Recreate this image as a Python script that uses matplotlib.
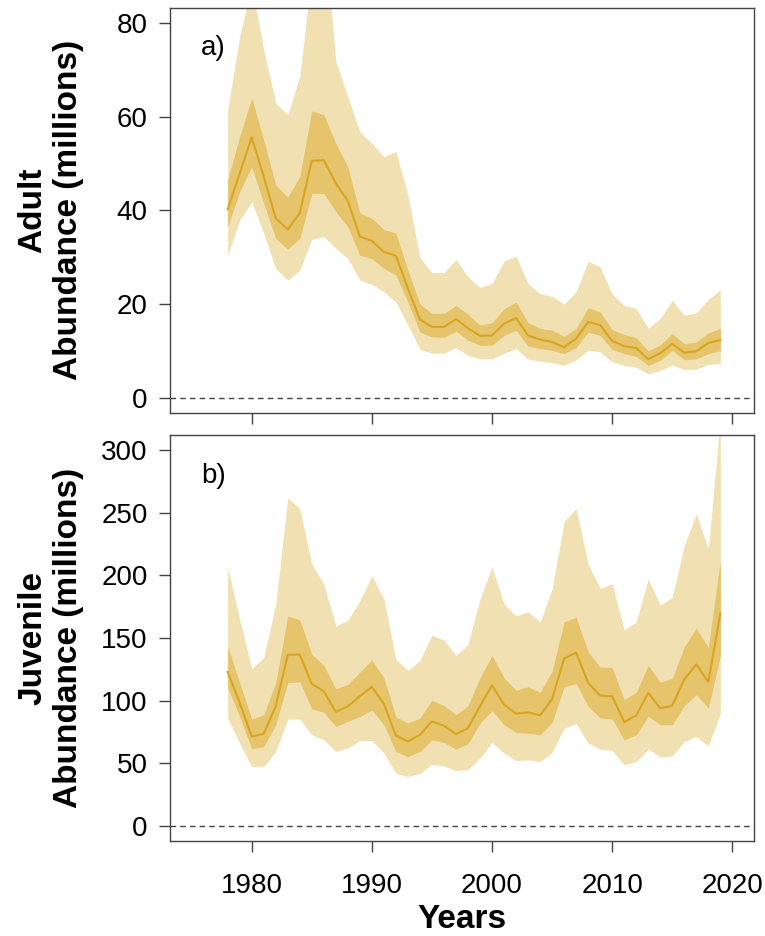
import matplotlib
matplotlib.use("Agg")
import matplotlib.pyplot as plt
import numpy as np

plt.rcParams['font.family'] = ['Liberation Sans', 'DejaVu Sans']

years = np.arange(1978, 2020)

# adult abundance (millions): median, inner band, outer band
adult_med = [40.2, 47.9, 55.6, 47.2, 38.3, 35.9, 39.4, 50.6, 50.7, 45.8,
             42.0, 34.4, 33.5, 31.1, 30.3, 23.3, 16.7, 15.1, 15.1, 16.8,
             14.8, 13.2, 13.3, 15.8, 17.0, 13.3, 12.4, 11.9, 10.8, 12.6,
             16.2, 15.5, 12.1, 11.0, 10.6, 8.2, 9.5, 11.5, 9.6, 9.9,
             11.7, 12.3]
adult_in_hi = [46.5, 55.7, 64.0, 55.0, 45.4, 42.8, 47.2, 61.2, 60.4, 54.3,
               49.3, 39.4, 38.3, 35.9, 35.1, 27.2, 20.0, 18.0, 18.0, 19.7,
               17.8, 15.5, 16.0, 19.0, 20.4, 16.0, 14.8, 14.4, 13.1, 14.8,
               19.2, 18.3, 14.5, 13.5, 12.8, 10.0, 11.3, 13.7, 11.5, 11.9,
               13.8, 14.8]
adult_in_lo = [36.5, 44.0, 49.3, 41.5, 34.0, 31.7, 34.0, 43.6, 43.6, 39.7,
               36.5, 30.4, 29.7, 27.6, 26.2, 20.4, 14.0, 13.0, 12.9, 14.2,
               12.3, 11.2, 11.2, 13.3, 14.4, 11.0, 10.5, 10.1, 9.4, 10.7,
               14.0, 13.3, 10.3, 9.4, 8.8, 6.9, 8.0, 10.1, 8.1, 8.3,
               9.4, 10.0]
adult_out_hi = [61.5, 77.1, 88.0, 74.3, 62.9, 60.4, 68.6, 90.5, 101.0, 71.8,
                64.3, 56.8, 54.3, 51.5, 52.5, 43.3, 29.9, 26.7, 26.7, 29.5,
                25.8, 23.5, 24.4, 29.2, 30.2, 24.3, 22.2, 21.7, 20.0, 22.6,
                29.2, 27.9, 22.1, 19.7, 19.0, 14.8, 16.9, 20.8, 17.6, 18.1,
                21.0, 23.0]
adult_out_lo = [30.4, 37.9, 41.8, 35.1, 27.6, 25.1, 27.2, 33.8, 34.4, 31.9,
                29.7, 25.1, 24.2, 22.6, 20.4, 15.5, 10.3, 9.5, 9.5, 10.7,
                9.0, 8.3, 8.3, 9.5, 10.5, 8.2, 7.8, 7.5, 6.9, 8.1,
                10.1, 9.8, 7.6, 6.9, 6.5, 5.1, 5.8, 7.0, 6.0, 6.1,
                7.1, 7.3]

# juvenile abundance (millions)
juv_med = [123.0, 98.2, 71.4, 73.6, 95.5, 136.7, 136.7, 113.4, 107.5, 91.0,
           95.5, 103.5, 111.0, 97.4, 72.2, 67.4, 72.8, 83.4, 80.0, 73.3,
           78.1, 95.5, 112.3, 96.8, 89.6, 90.7, 88.2, 101.4, 133.7, 138.3,
           114.2, 104.0, 103.5, 82.9, 88.2, 106.2, 93.8, 96.0, 116.9, 128.9,
           115.0, 169.6]
juv_in_hi = [143.1, 114.2, 85.3, 88.8, 114.2, 167.6, 164.4, 136.9, 128.1, 109.4,
             112.9, 122.7, 132.4, 118.2, 86.9, 82.1, 86.1, 100.3, 96.0, 88.8,
             96.0, 118.2, 136.1, 118.2, 108.3, 111.0, 106.7, 123.5, 162.8, 166.4,
             138.8, 126.7, 126.4, 100.8, 106.7, 128.1, 114.7, 117.7, 143.1, 157.8,
             142.3, 211.8]
juv_in_lo = [110.2, 87.4, 61.5, 63.4, 80.8, 114.2, 115.0, 93.4, 90.7, 79.4,
             83.4, 87.4, 92.4, 80.8, 59.4, 55.3, 59.4, 68.7, 66.6, 61.5,
             65.5, 82.1, 92.0, 80.8, 74.6, 74.1, 72.8, 82.6, 111.0, 113.7,
             95.5, 86.1, 85.3, 68.7, 72.8, 87.4, 80.8, 80.8, 96.0, 104.8,
             94.2, 135.6]
juv_out_hi = [206.5, 165.0, 125.4, 134.3, 177.0, 261.8, 253.2, 209.1, 193.1, 159.6,
              164.2, 179.7, 199.7, 181.0, 132.9, 124.3, 132.1, 152.2, 148.4, 136.1,
              144.9, 181.0, 206.5, 177.0, 167.6, 170.9, 162.8, 189.0, 243.0, 253.2,
              209.1, 189.6, 193.1, 156.4, 162.8, 197.3, 176.2, 182.5, 223.8, 249.2,
              220.6, 325.0]
juv_out_lo = [86.1, 66.1, 47.3, 47.3, 59.4, 85.3, 85.3, 72.8, 68.7, 59.4,
              62.1, 68.2, 68.2, 58.1, 42.0, 39.3, 42.0, 49.2, 47.9, 44.1,
              45.2, 54.1, 66.6, 58.1, 52.1, 52.7, 51.3, 58.8, 78.1, 81.5,
              66.1, 61.3, 60.2, 48.7, 51.3, 61.3, 54.9, 55.9, 67.4, 71.4,
              63.8, 89.6]

light = '#F1E0B1'
dark = '#E5C46B'
line_col = '#D9A521'

fig = plt.figure(figsize=(7.65, 9.36), dpi=100)
ax1 = fig.add_axes([0.2222, 0.5591, 0.7634, 0.4324])
ax2 = fig.add_axes([0.2222, 0.1015, 0.7634, 0.4338])

panels = [
    (ax1, adult_med, adult_in_lo, adult_in_hi, adult_out_lo, adult_out_hi,
     'Adult\nAbundance (millions)', (-3.2, 83.2), [0, 20, 40, 60, 80], 'a)'),
    (ax2, juv_med, juv_in_lo, juv_in_hi, juv_out_lo, juv_out_hi,
     'Juvenile\nAbundance (millions)', (-12, 312), [0, 50, 100, 150, 200, 250, 300], 'b)'),
]

for ax, med, ilo, ihi, olo, ohi, lab, ylim, yt, tag in panels:
    ax.fill_between(years, olo, ohi, color=light, lw=0)
    ax.fill_between(years, ilo, ihi, color=dark, lw=0)
    ax.plot(years, med, color=line_col, lw=1.5)
    ax.axhline(0, color='#444444', lw=1, ls=(0, (4, 3)))
    ax.set_xlim(1973.2, 2021.8)
    ax.set_ylim(*ylim)
    ax.set_yticks(yt)
    ax.set_xticks([1980, 1990, 2000, 2010, 2020])
    ax.tick_params(labelsize=20, length=8, width=1, color='#444444')
    ax.tick_params(axis='y', pad=8)
    ax.tick_params(axis='x', pad=15)
    for s in ax.spines.values():
        s.set_color('#444444')
        s.set_linewidth(1)
    ax.set_ylabel(lab, fontsize=24, fontweight='bold')
    ax.yaxis.set_label_coords(-0.147, 0.5)
    ax.text(0.074, 0.90, tag, transform=ax.transAxes, fontsize=20,
            ha='center', va='center')

ax1.tick_params(axis='x', labelbottom=False)
ax2.set_xlabel('Years', fontsize=24, fontweight='bold', labelpad=4)

fig.savefig('out.png', dpi=100)
